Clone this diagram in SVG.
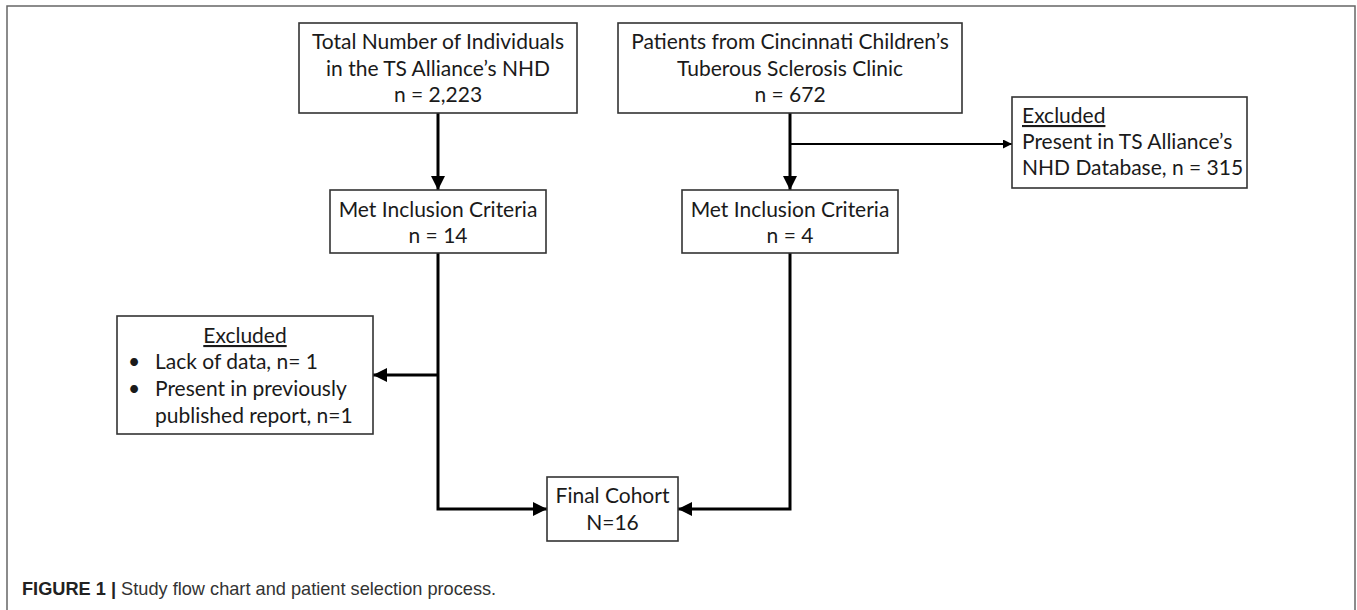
<svg xmlns="http://www.w3.org/2000/svg" width="1357" height="610" viewBox="0 0 1357 610">
  <style>
    .box { fill: #ffffff; stroke: #333333; stroke-width: 1.6; }
    .t { font-family: Lato, "Liberation Sans", sans-serif; font-size: 21px; fill: #1a1a1a; }
    .c { text-anchor: middle; }
    .conn { fill: none; stroke: #000000; stroke-width: 3; }
    .thin { fill: none; stroke: #000000; stroke-width: 2; }
    .cap { font-family: "Liberation Sans", Arial, sans-serif; font-size: 18.2px; fill: #333333; }
  </style>
  <defs>
    <marker id="ah" markerUnits="userSpaceOnUse" markerWidth="14" markerHeight="14" refX="14" refY="7" orient="auto">
      <path d="M0,0 L14,7 L0,14 z" fill="#000000"/>
    </marker>
    <marker id="ahs" markerUnits="userSpaceOnUse" markerWidth="9" markerHeight="9" refX="9" refY="4.5" orient="auto">
      <path d="M0,0 L9,4.5 L0,9 z" fill="#000000"/>
    </marker>
  </defs>
  <rect x="0" y="0" width="1357" height="610" fill="#ffffff"/>
  <rect x="7" y="6" width="1348" height="640" fill="none" stroke="#666666" stroke-width="1.5"/>

  <g id="connectors">
    <path class="conn" d="M438,113 V190" marker-end="url(#ah)"/>
    <path class="conn" d="M790,113 V190" marker-end="url(#ah)"/>
    <path class="thin" d="M790,144 H1012" marker-end="url(#ahs)"/>
    <path class="conn" d="M438,375 H373" marker-end="url(#ah)"/>
    <path class="conn" d="M438,253 V509 H547" marker-end="url(#ah)"/>
    <path class="conn" d="M790,253 V509 H678" marker-end="url(#ah)"/>
  </g>

  <g id="node-total">
    <rect class="box" x="299" y="23" width="278" height="90"/>
    <text class="t c" x="438" y="49">Total Number of Individuals</text>
    <text class="t c" x="438" y="76">in the TS Alliance’s NHD</text>
    <text class="t c" x="438" y="102">n = 2,223</text>
  </g>

  <g id="node-patients">
    <rect class="box" x="618" y="23" width="344" height="90"/>
    <text class="t c" x="790" y="49">Patients from Cincinnati Children’s</text>
    <text class="t c" x="790" y="76">Tuberous Sclerosis Clinic</text>
    <text class="t c" x="790" y="102">n = 672</text>
  </g>

  <g id="node-excluded-right">
    <rect class="box" x="1012" y="97" width="235" height="91"/>
    <text class="t" x="1022" y="123" text-decoration="underline">Excluded</text>
    <text class="t" x="1022" y="149">Present in TS Alliance’s</text>
    <text class="t" x="1022" y="175">NHD Database, n = 315</text>
  </g>

  <g id="node-met-left">
    <rect class="box" x="330" y="190" width="216" height="63"/>
    <text class="t c" x="438" y="217">Met Inclusion Criteria</text>
    <text class="t c" x="438" y="243">n = 14</text>
  </g>

  <g id="node-met-right">
    <rect class="box" x="682" y="190" width="216" height="63"/>
    <text class="t c" x="790" y="217">Met Inclusion Criteria</text>
    <text class="t c" x="790" y="243">n = 4</text>
  </g>

  <g id="node-excluded-left">
    <rect class="box" x="117" y="316" width="256" height="118"/>
    <text class="t c" x="245" y="343" text-decoration="underline">Excluded</text>
    <text class="t" x="128" y="369">•</text>
    <text class="t" x="155" y="369">Lack of data, n= 1</text>
    <text class="t" x="128" y="396">•</text>
    <text class="t" x="155" y="396">Present in previously</text>
    <text class="t" x="155" y="423">published report, n=1</text>
  </g>

  <g id="node-final">
    <rect class="box" x="547" y="477" width="131" height="64"/>
    <text class="t c" x="612.5" y="503">Final Cohort</text>
    <text class="t c" x="612.5" y="530">N=16</text>
  </g>

  <g id="caption">
    <text class="cap" x="22" y="595"><tspan font-weight="bold" fill="#222222">FIGURE 1 | </tspan>Study flow chart and patient selection process.</text>
  </g>
</svg>
